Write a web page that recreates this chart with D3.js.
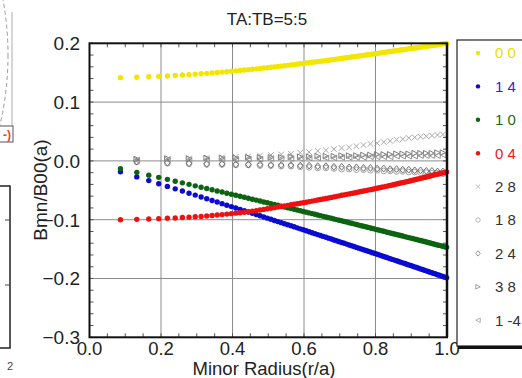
<!DOCTYPE html>
<html>
<head>
<meta charset="utf-8">
<script src="https://cdn.jsdelivr.net/npm/d3@7"></script>
<style>
body { margin: 0; background: #fff; }
svg { display: block; font-family: "Liberation Sans", Arial, sans-serif; }
</style>
</head>
<body>
<svg width="522" height="378"></svg>
<script>
// radial grid of the profiles (r/a)
const radius = [0.0866,0.1323,0.1658,0.1936,0.2179,0.2398,0.2598,0.2784,0.2958,0.3122,
0.3279,0.3428,0.3571,0.3708,0.3841,0.3969,0.4093,0.4213,0.4330,0.4444,
0.4555,0.4664,0.4770,0.4873,0.4975,0.5074,0.5172,0.5268,0.5362,0.5454,
0.5545,0.5635,0.5723,0.5809,0.5895,0.5979,0.6062,0.6144,0.6225,0.6305,
0.6384,0.6461,0.6538,0.6614,0.6690,0.6764,0.6837,0.6910,0.6982,0.7053,
0.7124,0.7194,0.7263,0.7331,0.7399,0.7467,0.7533,0.7599,0.7665,0.7730,
0.7794,0.7858,0.7921,0.7984,0.8047,0.8109,0.8170,0.8231,0.8292,0.8352,
0.8411,0.8471,0.8529,0.8588,0.8646,0.8703,0.8761,0.8818,0.8874,0.8930,
0.8986,0.9042,0.9097,0.9151,0.9206,0.9260,0.9314,0.9367,0.9421,0.9474,
0.9526,0.9579,0.9631,0.9682,0.9734,0.9785,0.9836,0.9887,0.9937,0.9987];

const b00 = [0.1416,0.1423,0.1431,0.1438,0.1445,0.1453,0.1460,0.1467,0.1475,0.1482,
0.1489,0.1496,0.1503,0.1510,0.1517,0.1524,0.1531,0.1538,0.1545,0.1552,
0.1559,0.1565,0.1572,0.1579,0.1585,0.1592,0.1599,0.1605,0.1612,0.1619,
0.1625,0.1632,0.1638,0.1645,0.1651,0.1657,0.1664,0.1670,0.1677,0.1683,
0.1689,0.1695,0.1701,0.1707,0.1713,0.1719,0.1725,0.1731,0.1737,0.1743,
0.1749,0.1755,0.1760,0.1766,0.1772,0.1778,0.1784,0.1789,0.1795,0.1801,
0.1806,0.1812,0.1817,0.1823,0.1828,0.1833,0.1839,0.1844,0.1850,0.1855,
0.1860,0.1865,0.1870,0.1875,0.1880,0.1886,0.1891,0.1896,0.1901,0.1906,
0.1911,0.1916,0.1920,0.1925,0.1930,0.1935,0.1940,0.1944,0.1949,0.1954,
0.1958,0.1963,0.1967,0.1972,0.1976,0.1981,0.1986,0.1990,0.1995,0.1999];

const b14 = [-0.0186,-0.0272,-0.0335,-0.0388,-0.0434,-0.0475,-0.0513,-0.0549,-0.0582,-0.0614,
-0.0644,-0.0673,-0.0700,-0.0727,-0.0753,-0.0777,-0.0802,-0.0825,-0.0848,-0.0870,
-0.0892,-0.0913,-0.0934,-0.0954,-0.0974,-0.0993,-0.1013,-0.1032,-0.1050,-0.1068,
-0.1086,-0.1104,-0.1121,-0.1139,-0.1156,-0.1172,-0.1189,-0.1205,-0.1221,-0.1237,
-0.1253,-0.1268,-0.1284,-0.1299,-0.1314,-0.1329,-0.1344,-0.1358,-0.1373,-0.1387,
-0.1401,-0.1415,-0.1429,-0.1443,-0.1457,-0.1471,-0.1484,-0.1497,-0.1511,-0.1524,
-0.1537,-0.1550,-0.1563,-0.1575,-0.1588,-0.1601,-0.1613,-0.1626,-0.1638,-0.1650,
-0.1662,-0.1675,-0.1687,-0.1699,-0.1710,-0.1722,-0.1734,-0.1746,-0.1757,-0.1769,
-0.1780,-0.1792,-0.1803,-0.1814,-0.1826,-0.1837,-0.1848,-0.1859,-0.1870,-0.1881,
-0.1892,-0.1903,-0.1913,-0.1924,-0.1935,-0.1945,-0.1956,-0.1967,-0.1977,-0.1987];

const b10 = [-0.0133,-0.0195,-0.0242,-0.0280,-0.0314,-0.0345,-0.0373,-0.0399,-0.0424,-0.0447,
-0.0469,-0.0490,-0.0511,-0.0530,-0.0549,-0.0567,-0.0585,-0.0602,-0.0619,-0.0636,
-0.0652,-0.0667,-0.0683,-0.0698,-0.0713,-0.0727,-0.0741,-0.0755,-0.0769,-0.0783,
-0.0796,-0.0809,-0.0822,-0.0835,-0.0847,-0.0860,-0.0872,-0.0884,-0.0896,-0.0908,
-0.0920,-0.0931,-0.0943,-0.0954,-0.0965,-0.0976,-0.0987,-0.0998,-0.1009,-0.1019,
-0.1030,-0.1040,-0.1051,-0.1061,-0.1071,-0.1082,-0.1092,-0.1102,-0.1112,-0.1121,
-0.1131,-0.1141,-0.1150,-0.1160,-0.1169,-0.1179,-0.1188,-0.1197,-0.1207,-0.1216,
-0.1225,-0.1234,-0.1243,-0.1252,-0.1261,-0.1269,-0.1278,-0.1287,-0.1296,-0.1304,
-0.1313,-0.1321,-0.1330,-0.1338,-0.1347,-0.1355,-0.1363,-0.1372,-0.1380,-0.1388,
-0.1396,-0.1405,-0.1413,-0.1421,-0.1429,-0.1437,-0.1445,-0.1452,-0.1460,-0.1468];

const b04 = [-0.1000,-0.0994,-0.0988,-0.0982,-0.0976,-0.0970,-0.0963,-0.0957,-0.0951,-0.0945,
-0.0937,-0.0929,-0.0921,-0.0913,-0.0905,-0.0897,-0.0889,-0.0881,-0.0873,-0.0865,
-0.0855,-0.0845,-0.0835,-0.0825,-0.0815,-0.0805,-0.0795,-0.0785,-0.0775,-0.0765,
-0.0756,-0.0747,-0.0738,-0.0729,-0.0720,-0.0711,-0.0702,-0.0693,-0.0684,-0.0675,
-0.0666,-0.0657,-0.0648,-0.0639,-0.0630,-0.0621,-0.0612,-0.0603,-0.0594,-0.0585,
-0.0577,-0.0569,-0.0561,-0.0553,-0.0545,-0.0537,-0.0529,-0.0521,-0.0513,-0.0505,
-0.0497,-0.0489,-0.0481,-0.0473,-0.0465,-0.0457,-0.0449,-0.0441,-0.0433,-0.0425,
-0.0417,-0.0409,-0.0401,-0.0393,-0.0385,-0.0377,-0.0369,-0.0361,-0.0353,-0.0345,
-0.0337,-0.0329,-0.0321,-0.0313,-0.0305,-0.0297,-0.0289,-0.0281,-0.0273,-0.0265,
-0.0257,-0.0249,-0.0241,-0.0233,-0.0225,-0.0218,-0.0211,-0.0204,-0.0197,-0.0190];

// the small harmonics are sampled on a coarser grid
const grayRadius = [0.1323,0.2179,0.2784,0.3279,0.3708,0.4093,0.4444,0.4770,0.5074,0.5362,
0.5635,0.5895,0.6144,0.6384,0.6614,0.6837,0.7053,0.7263,0.7467,0.7665,
0.7858,0.8047,0.8231,0.8411,0.8588,0.8761,0.8930,0.9097,0.9260,0.9421,
0.9579,0.9734,0.9887];

const b28 = [0.002,0.003,0.004,0.005,0.006,0.007,0.008,0.009,0.010,0.011,
0.012,0.014,0.015,0.017,0.018,0.020,0.022,0.023,0.025,0.027,
0.029,0.030,0.032,0.034,0.036,0.037,0.039,0.040,0.041,0.042,
0.043,0.044,0.045];
const b18 = [-0.002,-0.004,-0.005,-0.006,-0.006,-0.007,-0.007,-0.008,-0.008,-0.009,
-0.009,-0.010,-0.011,-0.012,-0.012,-0.013,-0.014,-0.014,-0.015,-0.015,
-0.016,-0.016,-0.017,-0.017,-0.018,-0.018,-0.019,-0.019,-0.020,-0.020,
-0.021,-0.021,-0.022];
const b24 = [-0.001,-0.003,-0.004,-0.005,-0.005,-0.006,-0.006,-0.006,-0.007,-0.007,
-0.007,-0.008,-0.008,-0.009,-0.009,-0.010,-0.010,-0.011,-0.011,-0.012,
-0.012,-0.013,-0.013,-0.014,-0.014,-0.015,-0.015,-0.016,-0.016,-0.017,
-0.017,-0.018,-0.018];
const b38 = [0.003,0.004,0.004,0.005,0.005,0.005,0.006,0.006,0.006,0.006,
0.007,0.007,0.007,0.008,0.008,0.008,0.009,0.009,0.009,0.010,
0.010,0.011,0.011,0.011,0.012,0.012,0.012,0.013,0.013,0.013,
0.013,0.014,0.014];
const b1m4 = [0.001,0.002,0.002,0.002,0.003,0.003,0.003,0.003,0.004,0.004,
0.004,0.004,0.005,0.005,0.005,0.005,0.006,0.006,0.006,0.006,
0.007,0.007,0.007,0.007,0.008,0.008,0.008,0.008,0.009,0.009,
0.009,0.009,0.010];

const xTicks = [0.0, 0.2, 0.4, 0.6, 0.8, 1.0];
const yTicks = [0.2, 0.1, 0.0, -0.1, -0.2, -0.3];

const legendLabels = ["0 0", "1 4", "1 0", "0 4", "2 8", "1 8", "2 4", "3 8", "1 -4"];

var svg = d3.select("svg");

var x = d3.scaleLinear().domain([0, 1]).range([89.5, 447]);
var y = d3.scaleLinear().domain([-0.3, 0.2]).range([337.3, 43.3]);

// bits of the neighbouring panel on the left edge
svg.append("circle")
    .attr("cx", -300).attr("cy", 55).attr("r", 308)
    .style("fill", "none").style("stroke", "#9a9a9a")
    .style("stroke-dasharray", "4,3").style("stroke-width", 1);
svg.append("line")
    .attr("x1", 12).attr("x2", 12).attr("y1", 12).attr("y2", 128)
    .style("stroke", "#c8c8c8").style("stroke-width", 1.5);
svg.append("rect")
    .attr("x", -4).attr("y", 126).attr("width", 17).attr("height", 16)
    .style("fill", "#fff").style("stroke", "#555").style("stroke-width", 1);
svg.append("text")
    .attr("x", 3).attr("y", 139)
    .style("font-size", "12px").style("fill", "#e04040").style("font-weight", "bold")
    .text("-)");
svg.append("path")
    .attr("d", "M-2,186 H10 V348 H-2")
    .style("fill", "none").style("stroke", "#222").style("stroke-width", 1.5);
[220, 285].forEach(function (t) {
    svg.append("line").attr("x1", 10).attr("x2", 5).attr("y1", t).attr("y2", t)
        .style("stroke", "#444").style("stroke-width", 1);
});
svg.append("text").attr("x", 7).attr("y", 370)
    .style("font-size", "11px").style("fill", "#444").text("2");

// grid
var grid = svg.append("g");
grid.selectAll(".vgrid")
    .data(xTicks.slice(1, -1))
    .enter().append("line")
    .attr("x1", function (d) { return x(d); })
    .attr("x2", function (d) { return x(d); })
    .attr("y1", y(0.2)).attr("y2", y(-0.3))
    .style("stroke", "#8c8c8c").style("stroke-width", 1);
grid.selectAll(".hgrid")
    .data(yTicks.slice(1, -1))
    .enter().append("line")
    .attr("x1", x(0)).attr("x2", x(1))
    .attr("y1", function (d) { return y(d); })
    .attr("y2", function (d) { return y(d); })
    .style("stroke", "#8c8c8c").style("stroke-width", 1);

// minor ticks on all four sides, pointing inward
var minor = svg.append("g").style("stroke", "#555").style("stroke-width", 1);
d3.range(0, 1.0001, 0.05).forEach(function (t) {
    minor.append("line").attr("x1", x(t)).attr("x2", x(t)).attr("y1", y(-0.3)).attr("y2", y(-0.3) - 4);
    minor.append("line").attr("x1", x(t)).attr("x2", x(t)).attr("y1", y(0.2)).attr("y2", y(0.2) + 4);
});
d3.range(-0.3, 0.2001, 0.02).forEach(function (t) {
    minor.append("line").attr("x1", x(0)).attr("x2", x(0) + 4).attr("y1", y(t)).attr("y2", y(t));
    minor.append("line").attr("x1", x(1)).attr("x2", x(1) - 4).attr("y1", y(t)).attr("y2", y(t));
});

// gray harmonics, open markers
function markerPath(kind) {
    var s = 2.8;
    if (kind == "cross") return "M" + (-s) + "," + (-s) + "L" + s + "," + s + "M" + (-s) + "," + s + "L" + s + "," + (-s);
    if (kind == "circle") return "M" + s + ",0A" + s + "," + s + " 0 1,1 " + (-s) + ",0A" + s + "," + s + " 0 1,1 " + s + ",0";
    if (kind == "diamond") return "M0," + (-s - 0.6) + "L" + s + ",0L0," + (s + 0.6) + "L" + (-s) + ",0Z";
    if (kind == "right") return "M" + (-s) + "," + (-s) + "L" + s + ",0L" + (-s) + "," + s + "Z";
    return "M" + s + "," + (-s) + "L" + (-s) + ",0L" + s + "," + s + "Z";
}

var graySeries = [
    { values: b28, kind: "cross", color: "#a8a8a8" },
    { values: b18, kind: "circle", color: "#a0a0a0" },
    { values: b24, kind: "diamond", color: "#707070" },
    { values: b38, kind: "right", color: "#7c7c7c" },
    { values: b1m4, kind: "left", color: "#959595" }
];

graySeries.forEach(function (s) {
    svg.append("g").selectAll("path")
        .data(s.values)
        .enter().append("path")
        .attr("d", markerPath(s.kind))
        .attr("transform", function (d, i) { return "translate(" + x(grayRadius[i]) + "," + y(d) + ")"; })
        .style("fill", "none")
        .style("stroke", s.color)
        .style("stroke-width", 1);
});

// main harmonics, filled dots
var dotSeries = [
    { values: b00, color: "#f2e600" },
    { values: b14, color: "#0a0ad2" },
    { values: b10, color: "#0c6410" },
    { values: b04, color: "#f01010" }
];

dotSeries.forEach(function (s) {
    svg.append("g").selectAll("circle")
        .data(s.values)
        .enter().append("circle")
        .attr("cx", function (d, i) { return x(radius[i]); })
        .attr("cy", function (d) { return y(d); })
        .attr("r", 2.7)
        .style("fill", s.color);
});

// frame
svg.append("rect")
    .attr("x", x(0)).attr("y", y(0.2))
    .attr("width", x(1) - x(0)).attr("height", y(-0.3) - y(0.2))
    .style("fill", "none").style("stroke", "#111").style("stroke-width", 2);
svg.append("line")
    .attr("x1", x(1)).attr("x2", x(1)).attr("y1", y(0.2)).attr("y2", y(-0.3))
    .style("stroke", "#111").style("stroke-width", 2.5);

// tick labels
svg.selectAll(".ylab")
    .data(yTicks)
    .enter().append("text")
    .attr("x", 80)
    .attr("y", function (d) { return y(d); })
    .attr("dy", "0.36em")
    .style("text-anchor", "end")
    .style("font-size", "19px")
    .style("fill", "#222")
    .text(function (d) { return d3.format(".1f")(d); });

svg.selectAll(".xlab")
    .data(xTicks)
    .enter().append("text")
    .attr("x", function (d) { return x(d); })
    .attr("y", 355)
    .style("text-anchor", "middle")
    .style("font-size", "18.5px")
    .style("fill", "#222")
    .text(function (d) { return d3.format(".1f")(d); });

svg.append("text")
    .attr("x", 264).attr("y", 375)
    .style("text-anchor", "middle").style("font-size", "18.5px").style("fill", "#222")
    .text("Minor Radius(r/a)");

svg.append("text")
    .attr("transform", "translate(40,190) rotate(-90)")
    .attr("dy", "0.36em")
    .style("text-anchor", "middle").style("font-size", "19px").style("fill", "#222")
    .text("Bmn/B00(a)");

svg.append("text")
    .attr("x", 267).attr("y", 25)
    .style("text-anchor", "middle").style("font-size", "17px").style("fill", "#222")
    .text("TA:TB=5:5");

// legend
var legendColors = ["#e8e000", "#2a2acc", "#1d6b1d", "#e42020", "#333", "#333", "#333", "#333", "#333"];
var legendMarkers = ["dot", "dot", "dot", "dot", "cross", "circle", "diamond", "right", "left"];
var legendMarkerColors = ["#f2e600", "#0a0ad2", "#0c6410", "#f01010", "#a8a8a8", "#a0a0a0", "#707070", "#7c7c7c", "#959595"];

svg.append("rect")
    .attr("x", 457).attr("y", 40).attr("width", 80).attr("height", 306)
    .style("fill", "#fff").style("stroke", "#222").style("stroke-width", 1.2);
svg.append("line")
    .attr("x1", 458).attr("x2", 540).attr("y1", 347.5).attr("y2", 347.5)
    .style("stroke", "#111").style("stroke-width", 3);

var leg = svg.selectAll(".leg")
    .data(legendLabels)
    .enter().append("g")
    .attr("transform", function (d, i) { return "translate(478," + (53 + i * 33.4) + ")"; });

leg.each(function (d, i) {
    var g = d3.select(this);
    if (legendMarkers[i] == "dot") {
        g.append("circle").attr("r", 2.2).style("fill", legendMarkerColors[i]);
    } else {
        g.append("path").attr("d", markerPath(legendMarkers[i]))
            .attr("transform", "scale(0.8)")
            .style("fill", "none").style("stroke", legendMarkerColors[i]).style("stroke-width", 0.9);
    }
    g.append("text")
        .attr("x", 17).attr("dy", "0.36em")
        .style("font-size", "15px")
        .style("fill", legendColors[i])
        .text(d);
});
</script>
</body>
</html>
